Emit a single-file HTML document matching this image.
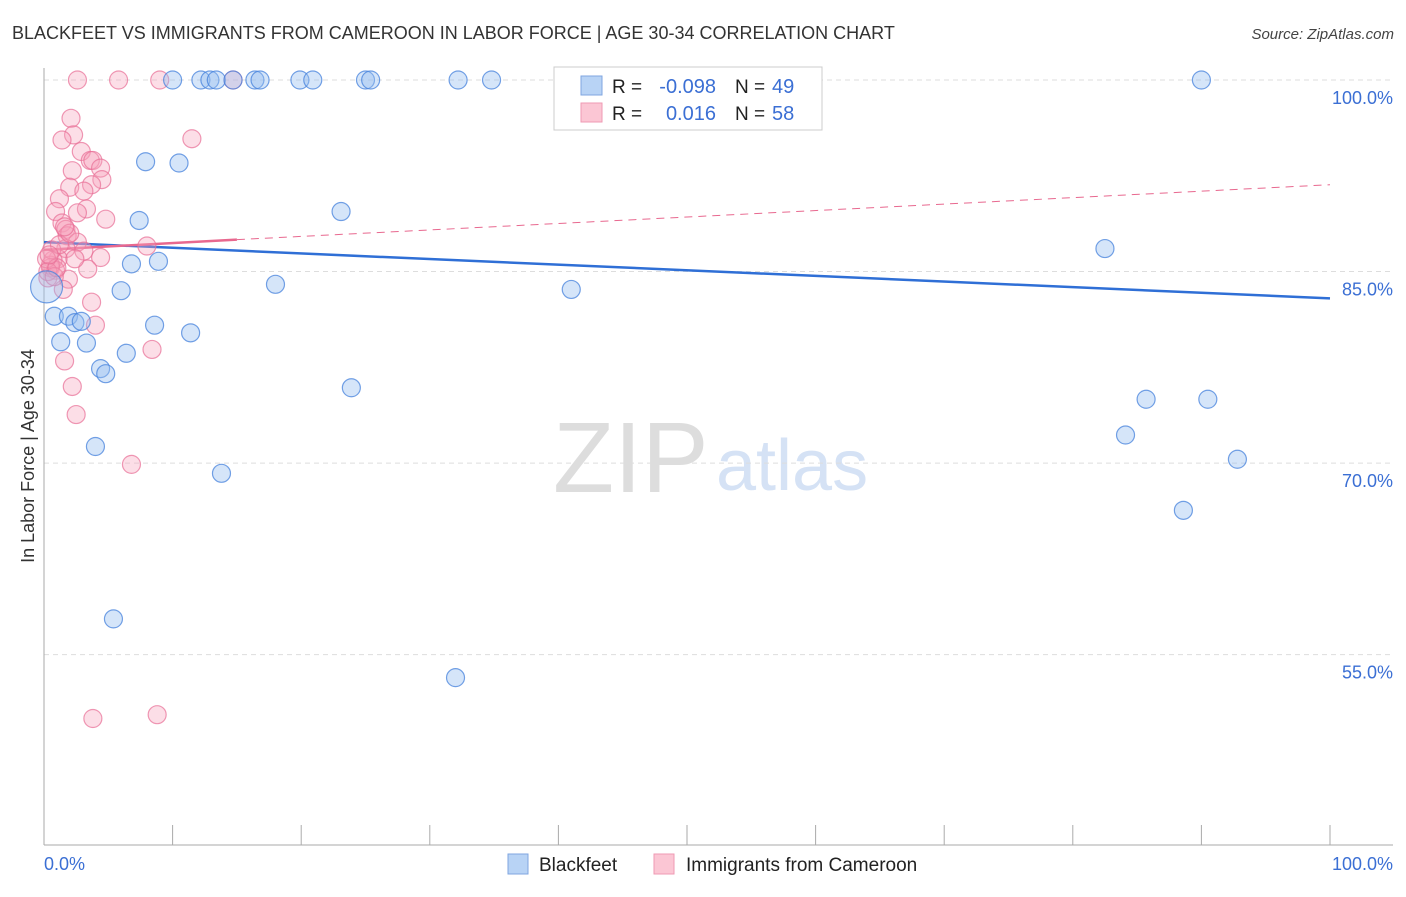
<!DOCTYPE html>
<html><head><meta charset="utf-8">
<style>
body{margin:0;background:#fff;width:1406px;height:892px;overflow:hidden;font-family:"Liberation Sans",sans-serif;}
svg text{font-family:"Liberation Sans",sans-serif;}
</style></head>
<body>
<svg id="chart" width="1406" height="892" viewBox="0 0 1406 892" xmlns="http://www.w3.org/2000/svg">
<text x="12" y="39" font-size="18" fill="#333">BLACKFEET VS IMMIGRANTS FROM CAMEROON IN LABOR FORCE | AGE 30-34 CORRELATION CHART</text>
<text x="1394" y="39" font-size="15" fill="#444" text-anchor="end" font-style="italic">Source: ZipAtlas.com</text>
<text x="553" y="492" font-size="100" fill="#ddd" font-family="Liberation Serif">ZIP</text>
<text x="716" y="490" font-size="72" fill="#d5e2f5">atlas</text>
<text transform="translate(34,456) rotate(-90)" font-size="18" fill="#333" text-anchor="middle">In Labor Force | Age 30-34</text>
<g id="grid"></g>
<g id="axes"></g>
<g id="trend"></g>
<g id="points"></g>
<g>
<rect x="554" y="67" width="268" height="63" fill="#fff" stroke="#ccc"/>
<rect x="581" y="76" width="21" height="19" fill="#b8d3f5" stroke="#7fa6e0"/>
<rect x="581" y="103" width="21" height="19" fill="#fbc6d4" stroke="#ef9ab3"/>
<text x="612" y="93" font-size="19" fill="#222">R =</text>
<text x="716" y="93" font-size="20" fill="#3b6fd4" text-anchor="end">-0.098</text>
<text x="735" y="93" font-size="19" fill="#222">N =</text>
<text x="772" y="93" font-size="20" fill="#3b6fd4">49</text>
<text x="612" y="120" font-size="19" fill="#222">R =</text>
<text x="716" y="120" font-size="20" fill="#3b6fd4" text-anchor="end">0.016</text>
<text x="735" y="120" font-size="19" fill="#222">N =</text>
<text x="772" y="120" font-size="20" fill="#3b6fd4">58</text>
</g>
<g>
<rect x="508" y="854" width="20" height="20" fill="#b8d3f5" stroke="#7fa6e0"/>
<text x="539" y="871" font-size="19" fill="#222">Blackfeet</text>
<rect x="654" y="854" width="20" height="20" fill="#fbc6d4" stroke="#ef9ab3"/>
<text x="686" y="871" font-size="19" fill="#222">Immigrants from Cameroon</text>
</g>
</svg>
<script>
const xTicks=[0,10,20,30,40,50,60,70,80,90,100];
const yTicks=[100,85,70,55];
const yTickLabels=["100.0%","85.0%","70.0%","55.0%"];
const blueX=[10,12.2,12.9,13.4,14.7,16.4,16.8,19.9,20.9,25.0,25.4,32.2,34.8,40.5,47.6,50.1,90.0,7.9,10.5,7.4,23.1,6.8,8.9,6.0,18.0,41.0,82.5,0.8,1.9,2.4,2.9,1.3,3.3,8.6,11.4,6.4,4.4,4.8,23.9,4.0,13.8,85.7,90.5,84.1,92.8,88.6,5.4,32.0,0.2];
const blueY=[100,100,100,100,100,100,100,100,100,100,100,100,100,100,100,100,100,93.6,93.5,89.0,89.7,85.6,85.8,83.5,84.0,83.6,86.8,81.5,81.5,81.0,81.1,79.5,79.4,80.8,80.2,78.6,77.4,77.0,75.9,71.3,69.2,75.0,75.0,72.2,70.3,66.3,57.8,53.2,83.8];
const pinkX=[2.6,5.8,9.0,14.7,2.1,2.3,1.4,11.5,2.9,3.6,3.8,4.4,2.2,4.5,3.7,2.0,3.1,1.2,0.9,3.3,2.6,4.8,1.4,1.7,1.8,2.6,8.0,1.7,4.4,1.1,0.7,0.5,0.9,3.4,1.9,0.3,1.5,3.7,4.0,8.4,1.6,2.2,2.5,6.8,3.8,8.8,0.5,0.6,0.2,3.1,1.2,2.4,0.3,0.8,1.0,2.0,0.4,1.6];
const pinkY=[100,100,100,100,97.0,95.7,95.3,95.4,94.4,93.7,93.7,93.1,92.9,92.2,91.8,91.6,91.3,90.7,89.7,89.9,89.6,89.1,88.8,88.3,87.8,87.3,87.0,86.8,86.1,86.0,85.9,85.3,85.1,85.2,84.4,84.5,83.6,82.6,80.8,78.9,78.0,76.0,73.8,69.9,50.0,50.3,85.5,86.7,86.0,86.6,87.1,86.0,85.0,84.6,85.3,88.0,86.3,88.5];
const blueTrend=[[0,87.3],[100,82.9]];
const pinkTrend=[[0,86.7],[15,87.5]];
const pinkTrendExt=[[15,87.5],[100,91.8]];

const X0=44,X1=1330,Y100=80,PX=12.77;
function xs(v){return X0+(X1-X0)*v/100;}
function ys(v){return Y100+(100-v)*PX;}
const NS="http://www.w3.org/2000/svg";
function mk(tag,attrs,parent){const e=document.createElementNS(NS,tag);for(const k in attrs)e.setAttribute(k,attrs[k]);parent.appendChild(e);return e;}
const grid=document.getElementById('grid'),axes=document.getElementById('axes'),tr=document.getElementById('trend'),pts=document.getElementById('points');
yTicks.forEach((t,i)=>{
 const l=mk('line',{x1:X0,x2:1393,y1:ys(t),y2:ys(t),stroke:'#ddd','stroke-dasharray':'5,4'},grid);
 
 
 const tx=mk('text',{x:1393,y:ys(t)+24,'font-size':18,fill:'#3b6fd4','text-anchor':'end'},axes);
 tx.textContent=yTickLabels[i];
 
 
});
let a=mk('line',{x1:X0,x2:X0,y1:68,y2:845,stroke:'#aaa'},axes);


a=mk('line',{x1:X0,x2:1393,y1:845,y2:845,stroke:'#aaa'},axes);


xTicks.forEach(t=>{
 const l=mk('line',{x1:xs(t),x2:xs(t),y1:825,y2:845,stroke:'#aaa'},axes);
 
 
});
let t0=mk('text',{x:44,y:870,'font-size':18,fill:'#3b6fd4'},axes);t0.textContent='0.0%';


let t1=mk('text',{x:1393,y:870,'font-size':18,fill:'#3b6fd4','text-anchor':'end'},axes);t1.textContent='100.0%';


function dot(x,y,fill,stroke,name,r){
 const c=mk('circle',{cx:xs(x),cy:ys(y),r:r||9,fill:fill,stroke:stroke,'stroke-width':1.2},pts);
 
 
}
pinkX.forEach((x,i)=>dot(x,pinkY[i],'rgba(246,160,185,0.35)','rgba(232,110,150,0.7)','cameroon-point'));
blueX.forEach((x,i)=>dot(x,blueY[i],'rgba(150,190,240,0.4)','rgba(70,130,220,0.75)','blackfeet-point',i===blueX.length-1?16:9));
let b=mk('line',{x1:xs(blueTrend[0][0]),y1:ys(blueTrend[0][1]),x2:xs(blueTrend[1][0]),y2:ys(blueTrend[1][1]),stroke:'#2f6fd6','stroke-width':2.5},tr);


let p=mk('line',{x1:xs(pinkTrend[0][0]),y1:ys(pinkTrend[0][1]),x2:xs(pinkTrend[1][0]),y2:ys(pinkTrend[1][1]),stroke:'#e8688f','stroke-width':2.5},tr);


let pe=mk('line',{x1:xs(pinkTrendExt[0][0]),y1:ys(pinkTrendExt[0][1]),x2:xs(pinkTrendExt[1][0]),y2:ys(pinkTrendExt[1][1]),stroke:'#e8688f','stroke-width':1,'stroke-dasharray':'8,6'},tr);


</script>
</body></html>
